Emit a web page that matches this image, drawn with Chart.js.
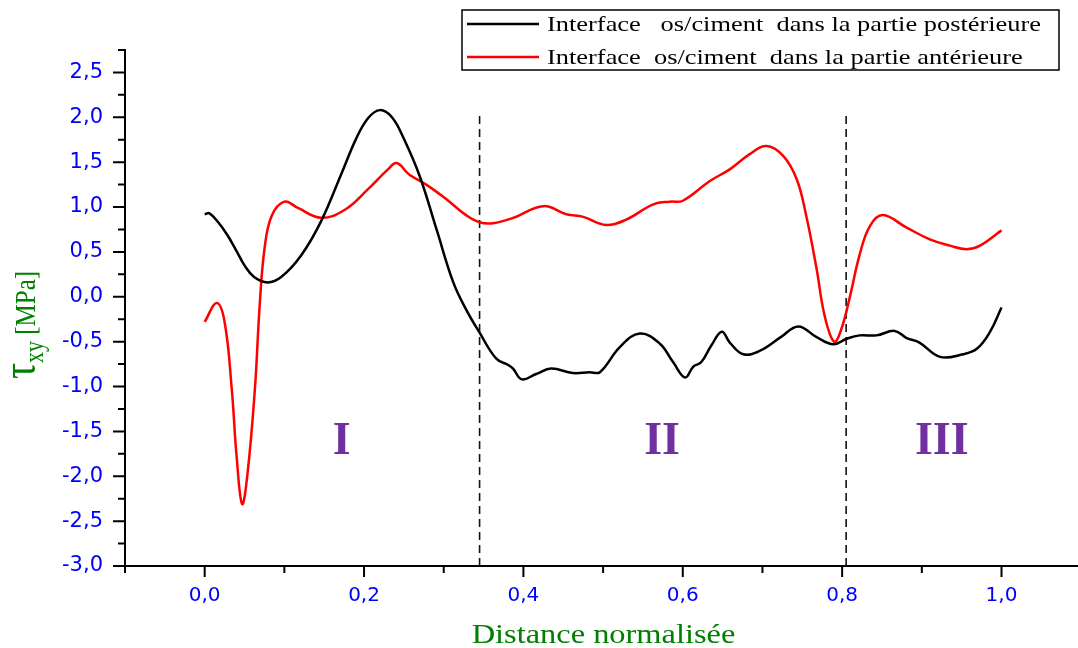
<!DOCTYPE html>
<html>
<head>
<meta charset="utf-8">
<script src="https://cdn.jsdelivr.net/npm/chart.js@4.4.1/dist/chart.umd.min.js"></script>
<style>
  html, body { margin: 0; padding: 0; background: #fff; }
</style>
</head>
<body>
<canvas id="tauChart" width="1078" height="648"></canvas>
<script>
// contrainte de cisaillement le long de l'interface os/ciment
const distPost = [0.000, 0.006, 0.017, 0.029, 0.040, 0.050, 0.062, 0.079, 0.096, 0.121, 0.146, 0.172, 0.190, 0.205, 0.220, 0.235, 0.250, 0.270, 0.291, 0.312, 0.328, 0.345, 0.366, 0.381, 0.387, 0.398, 0.416, 0.435, 0.462, 0.483, 0.496, 0.521, 0.546, 0.571, 0.588, 0.603, 0.613, 0.623, 0.636, 0.649, 0.659, 0.676, 0.697, 0.723, 0.745, 0.768, 0.789, 0.805, 0.822, 0.843, 0.866, 0.881, 0.897, 0.923, 0.952, 0.969, 0.985, 1.000];
const tauPost = [0.92, 0.93, 0.83, 0.68, 0.51, 0.35, 0.22, 0.16, 0.22, 0.46, 0.84, 1.38, 1.76, 1.99, 2.08, 2.00, 1.76, 1.34, 0.75, 0.16, -0.14, -0.40, -0.69, -0.76, -0.80, -0.92, -0.86, -0.80, -0.85, -0.84, -0.84, -0.56, -0.41, -0.52, -0.73, -0.90, -0.78, -0.73, -0.54, -0.39, -0.51, -0.64, -0.60, -0.45, -0.33, -0.45, -0.53, -0.47, -0.43, -0.43, -0.38, -0.46, -0.51, -0.67, -0.64, -0.58, -0.40, -0.12];

const distAnt = [0.000, 0.015, 0.025, 0.034, 0.040, 0.047, 0.054, 0.063, 0.069, 0.075, 0.084, 0.100, 0.117, 0.146, 0.176, 0.205, 0.230, 0.241, 0.257, 0.278, 0.303, 0.328, 0.345, 0.362, 0.387, 0.425, 0.454, 0.475, 0.504, 0.529, 0.563, 0.584, 0.600, 0.634, 0.659, 0.684, 0.705, 0.726, 0.743, 0.755, 0.768, 0.778, 0.790, 0.799, 0.810, 0.822, 0.835, 0.851, 0.881, 0.910, 0.935, 0.956, 0.973, 1.000];
const tauAnt = [-0.28, -0.07, -0.28, -1.03, -1.77, -2.31, -1.95, -1.03, -0.10, 0.53, 0.90, 1.06, 0.99, 0.88, 0.97, 1.20, 1.42, 1.49, 1.36, 1.25, 1.09, 0.91, 0.83, 0.82, 0.88, 1.01, 0.92, 0.89, 0.80, 0.86, 1.03, 1.06, 1.07, 1.29, 1.42, 1.59, 1.68, 1.57, 1.31, 0.90, 0.31, -0.21, -0.50, -0.36, 0.01, 0.47, 0.79, 0.91, 0.77, 0.64, 0.57, 0.53, 0.57, 0.74];

const seriesNames = [
  'Interface   os/ciment  dans la partie postérieure',
  'Interface  os/ciment  dans la partie antérieure'
];
const seriesColors = ['#000000', '#ff0000'];

// limites des zones I / II / III
const zoneBounds = [0.345, 0.805];
const zoneTop = 2.05;
const zoneNames = ['I', 'II', 'III'];
const zoneX = [0.172, 0.574, 0.925];
const zoneY = -1.62;

const xMajor = [0.0, 0.2, 0.4, 0.6, 0.8, 1.0];
const xMinor = [-0.1, 0.1, 0.3, 0.5, 0.7, 0.9];
const yMajor = [-3.0, -2.5, -2.0, -1.5, -1.0, -0.5, 0.0, 0.5, 1.0, 1.5, 2.0, 2.5];
const yMinor = [-2.75, -2.25, -1.75, -1.25, -0.75, -0.25, 0.25, 0.75, 1.25, 1.75, 2.25, 2.75];

const xTitle = 'Distance normalisée';

const toPoints = (xs, ys) => xs.map((x, i) => ({ x: x, y: ys[i] }));
const fmt = v => v.toFixed(1).replace('.', ',');

const SERIF = '"Liberation Serif", "Times New Roman", serif';
const GREEN = '#008000';
const STRETCH = 1.2;   // texte légèrement élargi

// graduations, légende, titres et étiquettes de zones
const decor = {
  id: 'decor',
  afterDraw(chart) {
    const ctx = chart.ctx;
    const xs = chart.scales.x, ys = chart.scales.y;
    const area = chart.chartArea;
    ctx.save();

    // graduations vers l'extérieur
    ctx.strokeStyle = '#000';
    ctx.lineWidth = 2;
    ctx.beginPath();
    xMajor.forEach(v => { const p = xs.getPixelForValue(v); ctx.moveTo(p, area.bottom); ctx.lineTo(p, area.bottom + 11); });
    xMinor.forEach(v => { const p = xs.getPixelForValue(v); ctx.moveTo(p, area.bottom); ctx.lineTo(p, area.bottom + 7); });
    yMajor.forEach(v => { const p = ys.getPixelForValue(v); ctx.moveTo(area.left, p); ctx.lineTo(area.left - 12, p); });
    yMinor.forEach(v => { const p = ys.getPixelForValue(v); ctx.moveTo(area.left, p); ctx.lineTo(area.left - 7, p); });
    ctx.stroke();

    // zones
    ctx.fillStyle = '#7030a0';
    ctx.font = 'bold 46px ' + SERIF;
    ctx.textAlign = 'center';
    ctx.textBaseline = 'middle';
    zoneNames.forEach((n, i) => {
      ctx.fillText(n, xs.getPixelForValue(zoneX[i]), ys.getPixelForValue(zoneY));
    });

    // titre de l'axe x
    ctx.fillStyle = GREEN;
    ctx.font = '27px ' + SERIF;
    ctx.textBaseline = 'alphabetic';
    ctx.save();
    ctx.translate((area.left + area.right) / 2 + 2, 643);
    ctx.scale(STRETCH, 1);
    ctx.fillText(xTitle, 0, 0);
    ctx.restore();

    // titre de l'axe y : tau_xy [MPa]
    ctx.save();
    ctx.translate(35, 325);
    ctx.rotate(-Math.PI / 2);
    ctx.scale(1, STRETCH);
    const parts = [
      { t: '\u03c4', f: '40px ', dy: 0 },
      { t: 'xy', f: '22px ', dy: 7 },
      { t: ' [MPa]', f: '25px ', dy: 0 }
    ];
    let total = 0;
    parts.forEach(p => { ctx.font = p.f + SERIF; p.w = ctx.measureText(p.t).width; total += p.w; });
    let cx = -total / 2;
    ctx.textAlign = 'left';
    parts.forEach(p => { ctx.font = p.f + SERIF; ctx.fillText(p.t, cx, p.dy); cx += p.w; });
    ctx.restore();

    // légende
    ctx.strokeStyle = '#000';
    ctx.lineWidth = 1.5;
    ctx.strokeRect(462, 10, 597, 60);
    ctx.font = '22px ' + SERIF;
    ctx.fillStyle = '#000';
    ctx.textAlign = 'left';
    ctx.textBaseline = 'middle';
    [24, 57].forEach((ly, i) => {
      ctx.strokeStyle = seriesColors[i];
      ctx.lineWidth = 2.5;
      ctx.beginPath();
      ctx.moveTo(467, ly);
      ctx.lineTo(539, ly);
      ctx.stroke();
      ctx.save();
      ctx.translate(547, ly + 1);
      ctx.scale(STRETCH, 1);
      ctx.fillText(seriesNames[i], 0, 0);
      ctx.restore();
    });

    ctx.restore();
  }
};

const boundarySets = zoneBounds.map(b => ({
  data: [{ x: b, y: -3.0 }, { x: b, y: zoneTop }],
  borderColor: '#111',
  borderWidth: 1.6,
  borderDash: [8, 5],
  pointRadius: 0,
  tension: 0
}));

new Chart(document.getElementById('tauChart').getContext('2d'), {
  type: 'line',
  data: {
    datasets: [{
      label: seriesNames[0],
      data: toPoints(distPost, tauPost),
      borderColor: seriesColors[0],
      borderWidth: 2.5,
      pointRadius: 0,
      tension: 0.4
    }, {
      label: seriesNames[1],
      data: toPoints(distAnt, tauAnt),
      borderColor: seriesColors[1],
      borderWidth: 2.5,
      pointRadius: 0,
      tension: 0.4
    }].concat(boundarySets)
  },
  options: {
    responsive: false,
    animation: false,
    devicePixelRatio: 1,
    layout: { padding: { top: 50, right: 0, left: 0, bottom: 0 } },
    plugins: { legend: { display: false }, tooltip: { enabled: false } },
    scales: {
      x: {
        type: 'linear',
        min: -0.1,
        max: 1.096,
        grid: { display: false, drawTicks: false },
        border: { display: true, color: '#000', width: 2 },
        afterBuildTicks: s => { s.ticks = xMajor.map(v => ({ value: v })); },
        afterFit: s => { s.height = 82; },
        ticks: {
          color: '#0000ff',
          padding: 18,
          font: { family: '"DejaVu Sans"', size: 20 },
          callback: v => fmt(v)
        }
      },
      y: {
        type: 'linear',
        min: -3.0,
        max: 2.75,
        grid: { display: false, drawTicks: false },
        border: { display: true, color: '#000', width: 2 },
        afterBuildTicks: s => { s.ticks = yMajor.map(v => ({ value: v })); },
        afterFit: s => { s.width = 125; },
        ticks: {
          color: '#0000ff',
          padding: 22,
          font: { family: '"DejaVu Sans"', size: 21 },
          callback: v => fmt(v)
        }
      }
    }
  },
  plugins: [decor]
});
</script>
</body>
</html>
